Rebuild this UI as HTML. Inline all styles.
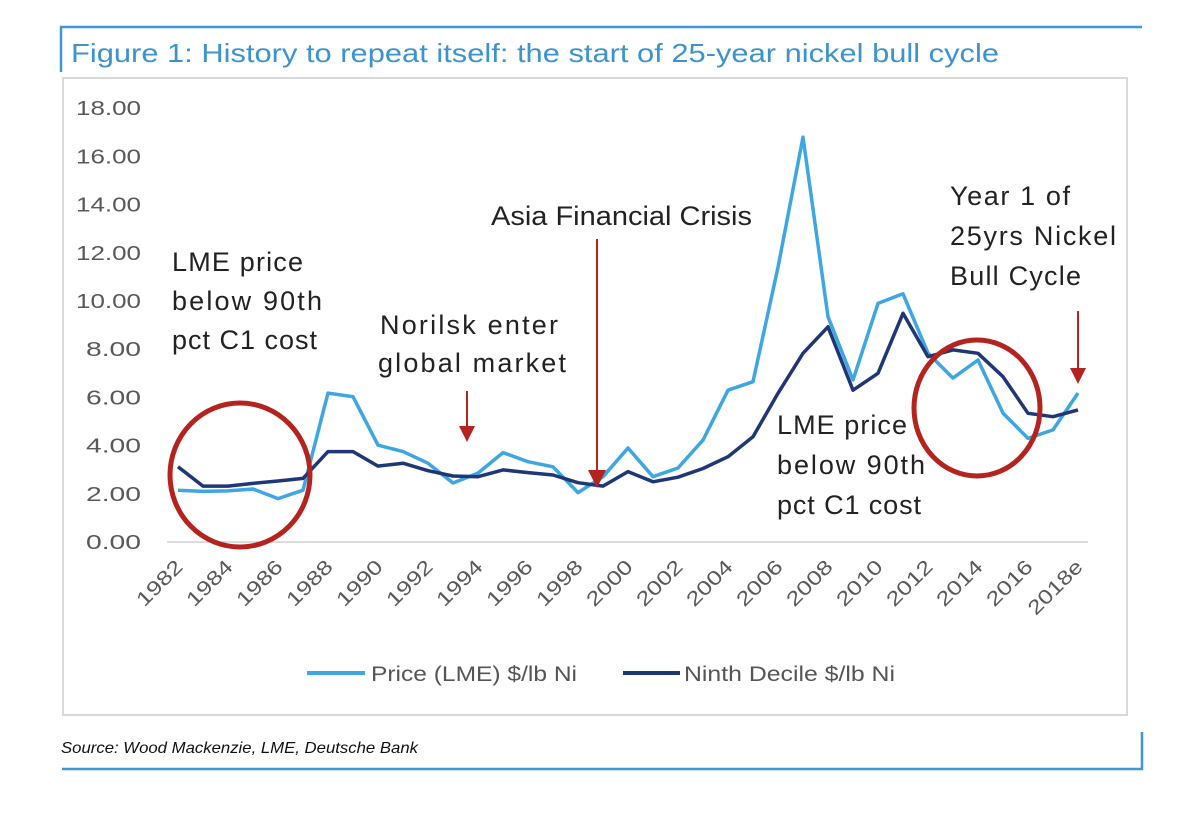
<!DOCTYPE html>
<html><head><meta charset="utf-8"><style>
html,body{margin:0;padding:0;background:#fff;}
svg{display:block;}
text{font-family:"Liberation Sans",sans-serif;}
</style></head><body>
<svg id="chart" width="1200" height="819" viewBox="0 0 1200 819">
  <polyline points="61,72 61,27 1142,27" fill="none" stroke="#3f97d3" stroke-width="2.5"/>
  <text x="71" y="62" font-size="26" fill="#3d93cf" textLength="928" lengthAdjust="spacingAndGlyphs">Figure 1: History to repeat itself: the start of 25-year nickel bull cycle</text>
  <rect x="63" y="78" width="1064" height="637" fill="#fff" stroke="#d9d9d9" stroke-width="2"/>
  <g id="yaxis"></g>
  <g id="xaxis"></g>
  <g id="series"></g>
  <g font-size="27" fill="#222">
    <ellipse cx="240" cy="475" rx="70" ry="72" fill="none" stroke="#b5231f" stroke-width="5"/>
    <ellipse cx="977" cy="408" rx="63" ry="68" fill="none" stroke="#b5231f" stroke-width="5"/>
    <text lengthAdjust="spacingAndGlyphs"><tspan x="172" y="271" textLength="131">LME price</tspan><tspan x="172" y="310" textLength="150">below 90th</tspan><tspan x="172" y="349" textLength="145">pct C1 cost</tspan></text>
    <text><tspan x="380" y="334" textLength="178">Norilsk enter</tspan><tspan x="378" y="372" textLength="188">global market</tspan></text>
    <text x="491" y="225" textLength="261" lengthAdjust="spacingAndGlyphs">Asia Financial Crisis</text>
    <text><tspan x="950" y="205" textLength="120">Year 1 of</tspan><tspan x="950" y="245" textLength="166">25yrs Nickel</tspan><tspan x="950" y="285" textLength="131">Bull Cycle</tspan></text>
    <text><tspan x="777" y="434" textLength="130">LME price</tspan><tspan x="777" y="474" textLength="148">below 90th</tspan><tspan x="777" y="514" textLength="144">pct C1 cost</tspan></text>
    <g stroke="#b5231f" fill="#b5231f"><line x1="467" y1="391" x2="467" y2="428" stroke-width="2"/><polygon points="459,426 475,426 467,442" stroke="none"/></g>
    <g stroke="#b5231f" fill="#b5231f"><line x1="597" y1="239" x2="597" y2="472" stroke-width="2"/><polygon points="588,470 606,470 597,488" stroke="none"/></g>
    <g stroke="#b5231f" fill="#b5231f"><line x1="1078" y1="311" x2="1078" y2="370" stroke-width="2"/><polygon points="1070,368 1086,368 1078,384" stroke="none"/></g>
  </g>
  <g font-size="21" fill="#555">
    <line x1="307" y1="673" x2="365" y2="673" stroke="#3ea6e2" stroke-width="4"/>
    <text x="371" y="681" textLength="206" lengthAdjust="spacingAndGlyphs">Price (LME) $/lb Ni</text>
    <line x1="623" y1="673" x2="680" y2="673" stroke="#1f3677" stroke-width="4"/>
    <text x="684" y="681" textLength="211" lengthAdjust="spacingAndGlyphs">Ninth Decile $/lb Ni</text>
  </g>
  <text x="61" y="753" font-size="16" font-style="italic" fill="#111" textLength="357" lengthAdjust="spacingAndGlyphs">Source: Wood Mackenzie, LME, Deutsche Bank</text>
  <polyline points="62,769 1142,769 1142,732" fill="none" stroke="#3f97d3" stroke-width="2.5"/>
</svg>
<script>
const years = ["1982","1983","1984","1985","1986","1987","1988","1989","1990","1991","1992","1993","1994","1995","1996","1997","1998","1999","2000","2001","2002","2003","2004","2005","2006","2007","2008","2009","2010","2011","2012","2013","2014","2015","2016","2017","2018e"];
const priceLME = [2.15,2.1,2.12,2.2,1.8,2.15,6.18,6.03,4.02,3.75,3.27,2.45,2.86,3.71,3.33,3.12,2.05,2.71,3.9,2.71,3.07,4.23,6.3,6.65,11.4,16.8,9.35,6.72,9.9,10.3,7.84,6.8,7.55,5.35,4.3,4.65,6.18];
const ninthDecile = [3.12,2.32,2.32,2.43,2.53,2.64,3.75,3.75,3.15,3.27,2.96,2.74,2.71,2.99,2.88,2.78,2.46,2.32,2.92,2.5,2.69,3.05,3.54,4.37,6.17,7.83,8.93,6.3,7.0,9.49,7.69,7.97,7.83,6.86,5.34,5.2,5.48];
const yTicks = [0,2,4,6,8,10,12,14,16,18];

const NS = "http://www.w3.org/2000/svg";
const x0 = 178, step = 25, yZero = 542, yPer = 24.1;
function xScale(i){ return x0 + i*step; }
function yScale(v){ return yZero - v*yPer; }
function mk(tag, attrs, parent){ const e=document.createElementNS(NS,tag); for(const k in attrs) e.setAttribute(k,attrs[k]); parent.appendChild(e); return e; }

const yaxis = document.getElementById('yaxis');
yTicks.forEach(t=>{
  const tx = mk('text',{x:141,y:yScale(t)+7,'text-anchor':'end','font-size':'20',fill:'#595959',textLength:t>=10?65:55,lengthAdjust:'spacingAndGlyphs'},yaxis);
  
  
  tx.textContent = t.toFixed(2);
});
const base = mk('line',{x1:167,y1:yScale(0),x2:1088,y2:yScale(0),stroke:'#d0d0d0','stroke-width':1.5},yaxis);



const xaxis = document.getElementById('xaxis');
years.forEach((y,i)=>{
  if(i%2!==0) return;
  const px = xScale(i)+6, py = 568;
  const tx = mk('text',{x:px,y:py,'text-anchor':'end','font-size':'20',fill:'#595959',textLength:y.length>4?68:56,lengthAdjust:'spacingAndGlyphs',transform:`rotate(-45 ${px} ${py})`},xaxis);
  
  
  tx.textContent = y;
});

const series = document.getElementById('series');
function drawLine(vals, color, name){
  const pts = vals.map((v,i)=>xScale(i).toFixed(1)+','+yScale(v).toFixed(1)).join(' ');
  const pl = mk('polyline',{points:pts,fill:'none',stroke:color,'stroke-width':3.5,'stroke-linejoin':'round'},series);
  
  
}
drawLine(priceLME,'#3ea6e2','price-lme-line');
drawLine(ninthDecile,'#1f3677','ninth-decile-line');
</script>
</body></html>
